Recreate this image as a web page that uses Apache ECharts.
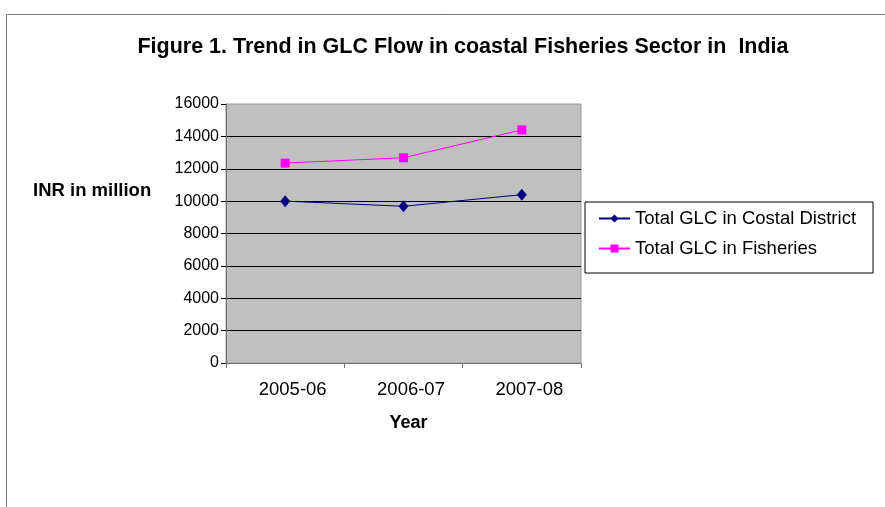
<!DOCTYPE html>
<html>
<head>
<meta charset="utf-8">
<script src="https://cdn.jsdelivr.net/npm/echarts@6/dist/echarts.min.js"></script>
<style>
  html, body { margin: 0; padding: 0; background: #fff; }
  #chart { width: 885px; height: 507px; }
</style>
</head>
<body>
<div id="chart"></div>
<script>
// Fiscal years on the category axis
const years = ['2005-06', '2006-07', '2007-08'];
// GLC flow, INR in million
const coastalDistrict = [10000, 9680, 10400];
const fisheries = [12350, 12680, 14400];
// Value axis range
const yMin = 0;
const yMax = 16000;
const yStep = 2000;

const FONT = '"Liberation Sans", Arial, sans-serif';

const chart = echarts.init(document.getElementById('chart'), null, { renderer: 'canvas' });

chart.setOption({
  backgroundColor: '#ffffff',
  animation: false,
  title: {
    text: 'Figure 1. Trend in GLC Flow in coastal Fisheries Sector in  India',
    left: 458,
    top: 31,
    textAlign: 'center',
    textStyle: { fontFamily: FONT, fontSize: 21.5, fontWeight: 'bold', color: '#000' }
  },
  graphic: [
    {
      type: 'rect',
      shape: { x: 6.5, y: 14.5, width: 1000, height: 700 },
      style: { fill: 'none', stroke: '#7a7a7a', lineWidth: 1 },
      silent: true,
      z: -10
    },
    {
      type: 'text',
      left: 33,
      top: 181,
      style: { text: 'INR in million', font: 'bold 18.5px ' + FONT, fill: '#000' }
    }
  ],
  legend: {
    orient: 'vertical',
    left: 585,
    top: 202,
    padding: [7, 17, 15, 13],
    itemGap: 11,
    itemWidth: 31,
    itemHeight: 10,
    borderColor: '#000',
    borderWidth: 1,
    textStyle: { fontFamily: FONT, fontSize: 18.5, color: '#000' },
    data: ['Total GLC in Costal District', 'Total GLC in Fisheries']
  },
  grid: {
    left: 226,
    top: 104,
    width: 355,
    height: 259,
    show: true,
    backgroundColor: '#c0c0c0',
    borderColor: '#9a9a9a',
    borderWidth: 1
  },
  xAxis: {
    type: 'category',
    data: years,
    boundaryGap: true,
    name: 'Year',
    nameLocation: 'middle',
    nameGap: 51,
    nameTextStyle: { fontFamily: FONT, fontSize: 18, fontWeight: 'bold', color: '#000', padding: [0, 0, 0, 10] },
    axisLine: { lineStyle: { color: '#707070', width: 1 } },
    axisTick: { show: true, length: 5, alignWithLabel: false, lineStyle: { color: '#707070' } },
    axisLabel: { fontFamily: FONT, fontSize: 18.5, color: '#000', margin: 17, padding: [0, 0, 0, 15] },
    splitLine: { show: false }
  },
  yAxis: {
    type: 'value',
    min: yMin,
    max: yMax,
    interval: yStep,
    axisLine: { show: true, lineStyle: { color: '#707070', width: 1 } },
    axisTick: { show: true, length: 5, lineStyle: { color: '#000' } },
    axisLabel: { fontFamily: FONT, fontSize: 16, color: '#000', margin: 7, formatter: v => String(v) },
    splitLine: { show: true, showMinLine: false, showMaxLine: false, lineStyle: { color: '#000', width: 1 } }
  },
  series: [
    {
      name: 'Total GLC in Costal District',
      type: 'line',
      data: coastalDistrict,
      symbol: 'diamond',
      symbolSize: [10, 12],
      lineStyle: { color: '#000080', width: 1 },
      itemStyle: { color: '#000080' }
    },
    {
      name: 'Total GLC in Fisheries',
      type: 'line',
      data: fisheries,
      symbol: 'rect',
      symbolSize: 9,
      lineStyle: { color: '#ff00ff', width: 1 },
      itemStyle: { color: '#ff00ff' }
    }
  ]
});
</script>
</body>
</html>
